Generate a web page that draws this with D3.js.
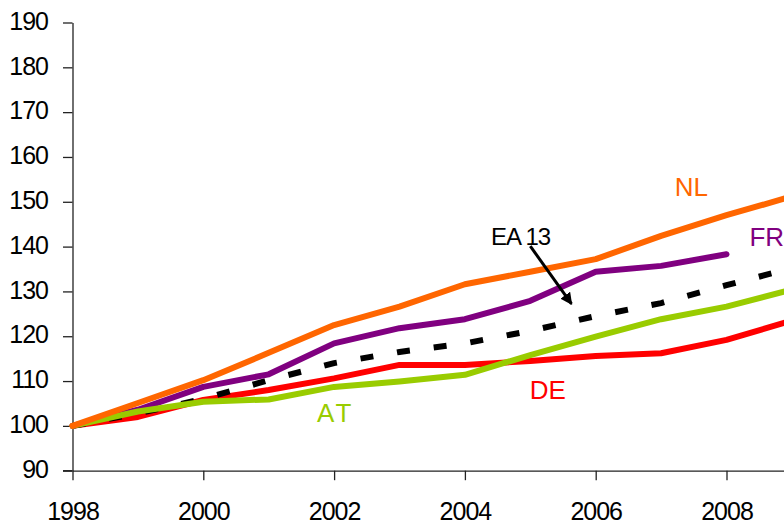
<!DOCTYPE html>
<html>
<head>
<meta charset="utf-8">
<script src="https://cdn.jsdelivr.net/npm/d3@7"></script>
<style>
  html, body { margin: 0; padding: 0; background: #fff; }
  svg { display: block; }
  text { font-family: "Liberation Sans", Arial, sans-serif; }
</style>
</head>
<body>
<svg id="chart" width="784" height="526"></svg>
<script>
// Index, 1998 = 100
const years = [1998, 1999, 2000, 2001, 2002, 2003, 2004, 2005, 2006, 2007, 2008, 2009];
const nl   = [100, 105.1, 110.2, 116.3, 122.5, 126.6, 131.6, 134.4, 137.2, 142.4, 147.0, 151.2];
const fr   = [100, 103.6, 108.7, 111.5, 118.4, 121.8, 123.8, 127.9, 134.4, 135.7, 138.3];
const ea13 = [100, 102.8, 106.0, 110.2, 114.0, 116.5, 118.4, 121.2, 124.5, 127.4, 131.4, 135.2];
const at   = [100, 103.2, 105.4, 105.9, 108.7, 109.9, 111.4, 115.8, 119.9, 123.8, 126.6, 130.4];
const de   = [100, 102.0, 105.8, 108.0, 110.6, 113.6, 113.6, 114.5, 115.6, 116.2, 119.2, 123.5];
const yTicks = [90, 100, 110, 120, 130, 140, 150, 160, 170, 180, 190];
const xTicks = [1998, 2000, 2002, 2004, 2006, 2008];

const svg = d3.select("#chart");

const x = d3.scaleLinear().domain([1998, 2010]).range([72.5, 857.3]);
const y = d3.scaleLinear().domain([90, 190]).range([470.7, 22.5]);

// axes
const yAxis = d3.axisLeft(y).tickValues(yTicks).tickSize(9.5).tickPadding(15).tickSizeOuter(0);
const xAxis = d3.axisBottom(x).tickValues(xTicks).tickFormat(d3.format("d")).tickSize(9.5).tickPadding(22).tickSizeOuter(0);

const gy = svg.append("g").attr("transform", `translate(${x(1998)},0)`).call(yAxis);
const gx = svg.append("g").attr("transform", `translate(0,${y(90)})`).call(xAxis);

[gx, gy].forEach(g => {
  g.select(".domain").attr("stroke", "#222").attr("stroke-width", 1.3);
  g.selectAll(".tick line").attr("stroke", "#222").attr("stroke-width", 1.3);
  g.selectAll(".tick text")
    .attr("fill", "#000")
    .style("font-size", "25px")
    .style("letter-spacing", "-1px");
});
gy.selectAll(".tick text").attr("dy", "0.27em");
// the 90 tick line also extends a little left past the axis on the x axis
gx.append("line")
  .attr("x1", x(1998) - 9.5).attr("x2", x(1998))
  .attr("stroke", "#222").attr("stroke-width", 1.3);

const line = d3.line()
  .x((d, i) => x(years[i]))
  .y(d => y(d))
  .curve(d3.curveLinear);

const series = [
  { values: de,   color: "#FF0000", width: 6, dash: null },
  { values: ea13, color: "#000000", width: 6, dash: "13,24" },
  { values: fr,   color: "#800080", width: 6, dash: null },
  { values: at,   color: "#99CC00", width: 6, dash: null },
  { values: nl,   color: "#FF6600", width: 6, dash: null }
];

const plot = svg.append("g");
series.forEach(s => {
  plot.append("path")
    .datum(s.values)
    .attr("d", line)
    .attr("fill", "none")
    .attr("stroke", s.color)
    .attr("stroke-width", s.width)
    .attr("stroke-linejoin", "round")
    .attr("stroke-linecap", s.dash ? "butt" : "round")
    .attr("stroke-dasharray", s.dash);
});

// series labels
const labels = [
  { text: "NL",    year: 2007.21, value: 151.3, color: "#FF6600", size: 26, ls: 0 },
  { text: "FR",    year: 2008.35, value: 140.1, color: "#800080", size: 26, ls: 0 },
  { text: "EA 13", year: 2004.40, value: 140.4, color: "#000000", size: 24, ls: -1 },
  { text: "AT",    year: 2001.74, value: 100.9, color: "#99CC00", size: 26, ls: 3 },
  { text: "DE",    year: 2004.99, value: 105.9, color: "#FF0000", size: 26, ls: 0 }
];
svg.append("g").selectAll("text")
  .data(labels)
  .join("text")
  .attr("x", d => x(d.year))
  .attr("y", d => y(d.value))
  .attr("fill", d => d.color)
  .style("font-size", d => d.size + "px")
  .style("letter-spacing", d => d.ls + "px")
  .text(d => d.text);

// arrow pointing from the EA 13 label to its line
const defs = svg.append("defs");
defs.append("marker")
  .attr("id", "arrowhead")
  .attr("viewBox", "0 0 10 10")
  .attr("refX", 9).attr("refY", 5)
  .attr("markerWidth", 4).attr("markerHeight", 4)
  .attr("markerUnits", "strokeWidth")
  .attr("orient", "auto")
  .append("path")
  .attr("d", "M0,0 L10,5 L0,10 z")
  .attr("fill", "#000");

svg.append("line")
  .attr("x1", x(2005.0)).attr("y1", y(140.1))
  .attr("x2", x(2005.63)).attr("y2", y(127.2))
  .attr("stroke", "#000")
  .attr("stroke-width", 3)
  .attr("marker-end", "url(#arrowhead)");
</script>
</body>
</html>
